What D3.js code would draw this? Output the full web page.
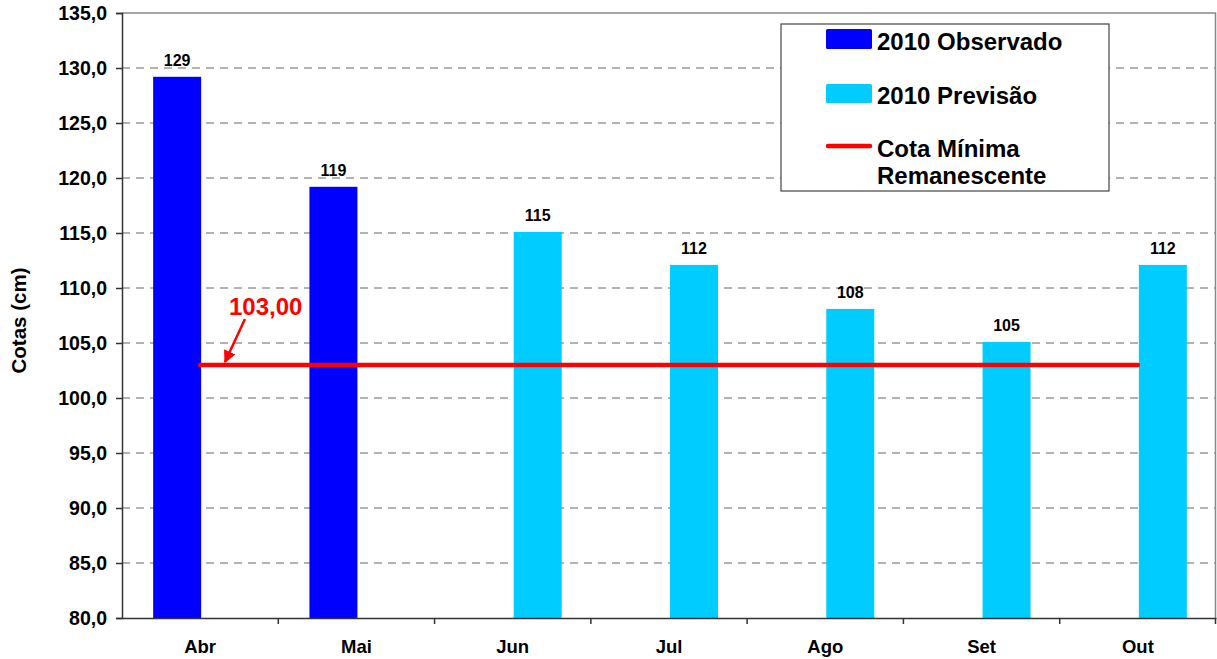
<!DOCTYPE html>
<html>
<head>
<meta charset="utf-8">
<script src="https://cdn.jsdelivr.net/npm/d3@7"></script>
<style>
  body { margin: 0; background: #fff; }
  svg { font-family: Arial, "Liberation Sans", sans-serif; }
</style>
</head>
<body>
<div id="chart"></div>
<script>
const months = ['Abr', 'Mai', 'Jun', 'Jul', 'Ago', 'Set', 'Out']
const observado = [129.2, 119.2, null, null, null, null, null]
const previsao = [null, null, 115.1, 112.1, 108.1, 105.1, 112.1]
const cotaMinima = 103
const yTicks = [80, 85, 90, 95, 100, 105, 110, 115, 120, 125, 130, 135]

const width = 1217
const height = 659
const margin = { top: 13, right: 1, bottom: 41, left: 122 }

const svg = d3.select('#chart').append('svg').attr('width', width).attr('height', height)

const x = d3.scaleBand().domain(months).range([margin.left, width - margin.right])
const sub = d3.scaleBand().domain(['obs', 'prev']).range([-47, 49])
const y = d3.scaleLinear().domain([80, 135]).range([height - margin.bottom, margin.top])
const fmt = v => d3.format('.1f')(v).replace('.', ',')

// grid
svg.append('g')
  .selectAll('line')
  .data(yTicks.filter(t => t > 80 && t < 135))
  .enter()
  .append('line')
  .attr('x1', margin.left).attr('x2', width - margin.right)
  .attr('y1', d => y(d)).attr('y2', d => y(d))
  .attr('stroke', '#666').attr('stroke-dasharray', '8,6')

// plot border top and right
svg.append('path')
  .attr('d', `M${margin.left},${y(135)}H${width - margin.right - 0.5}V${y(80)}`)
  .attr('fill', 'none').attr('stroke', '#888').attr('stroke-width', 1.5)

// bars
function drawBars (values, key, color) {
  const data = months.map((m, i) => ({ m, v: values[i] })).filter(d => d.v != null)
  svg.append('g')
    .selectAll('rect')
    .data(data)
    .enter()
    .append('rect')
    .attr('x', d => x(d.m) + x.bandwidth() / 2 + sub(key))
    .attr('width', sub.bandwidth())
    .attr('y', d => y(d.v))
    .attr('height', d => y(80) - y(d.v))
    .attr('fill', color)

  svg.append('g')
    .selectAll('text')
    .data(data)
    .enter()
    .append('text')
    .attr('x', d => x(d.m) + x.bandwidth() / 2 + sub(key) + sub.bandwidth() / 2)
    .attr('y', d => y(d.v) - 11)
    .attr('text-anchor', 'middle')
    .attr('font-size', 16).attr('font-weight', 'bold')
    .text(d => Math.round(d.v))
}
drawBars(observado, 'obs', '#0000ff')
drawBars(previsao, 'prev', '#00ccff')

// red line
svg.append('line')
  .attr('x1', x(months[0]) + x.bandwidth() / 2)
  .attr('x2', x(months[months.length - 1]) + x.bandwidth() / 2)
  .attr('y1', y(cotaMinima)).attr('y2', y(cotaMinima))
  .attr('stroke', '#ff0000').attr('stroke-width', 4.5).attr('stroke-linecap', 'round')

// annotation
svg.append('defs').append('marker')
  .attr('id', 'arr').attr('viewBox', '0 0 10 10').attr('refX', 9).attr('refY', 5)
  .attr('markerWidth', 5).attr('markerHeight', 5).attr('orient', 'auto')
  .append('path').attr('d', 'M0,0L10,5L0,10z').attr('fill', '#ff0000')
svg.append('line')
  .attr('x1', 245).attr('y1', 319).attr('x2', 225).attr('y2', y(cotaMinima) - 3)
  .attr('stroke', '#ff0000').attr('stroke-width', 2.5).attr('marker-end', 'url(#arr)')
svg.append('text')
  .attr('x', 229).attr('y', 315)
  .attr('fill', '#ff0000').attr('font-size', 24).attr('font-weight', 'bold')
  .text(d3.format('.2f')(cotaMinima).replace('.', ','))

// y axis
const yAxis = svg.append('g')
  .attr('transform', `translate(${margin.left},0)`)
  .call(d3.axisLeft(y).tickValues(yTicks).tickFormat(fmt).tickSize(6).tickPadding(9))
yAxis.selectAll('text').attr('font-size', 19.5).attr('font-weight', 'bold').attr('fill', '#000')
  .attr('font-family', 'Arial, "Liberation Sans", sans-serif')
yAxis.selectAll('line').attr('stroke', '#333').attr('stroke-width', 1.5)
yAxis.select('.domain').attr('stroke', '#333').attr('stroke-width', 1.5)

// x axis
const xAxis = svg.append('g')
  .attr('transform', `translate(0,${y(80)})`)
  .call(d3.axisBottom(x).tickSize(0).tickPadding(22))
xAxis.select('.domain').attr('stroke', '#333').attr('stroke-width', 1.5)
xAxis.selectAll('text').attr('font-size', 18.5).attr('font-weight', 'bold').attr('fill', '#000')
  .attr('font-family', 'Arial, "Liberation Sans", sans-serif')
svg.append('g')
  .selectAll('line')
  .data(months.slice(1).concat(['end']))
  .enter()
  .append('line')
  .attr('x1', d => d === 'end' ? width - margin.right - 0.5 : x(d))
  .attr('x2', d => d === 'end' ? width - margin.right - 0.5 : x(d))
  .attr('y1', y(80)).attr('y2', y(80) + 6)
  .attr('stroke', '#333').attr('stroke-width', 1.5)

// y label
svg.append('text')
  .attr('transform', `translate(26,${(y(80) + y(135)) / 2 + 5}) rotate(-90)`)
  .attr('text-anchor', 'middle')
  .attr('font-size', 20.5).attr('font-weight', 'bold')
  .text('Cotas (cm)')

// legend
const lg = svg.append('g')
lg.append('rect').attr('x', 781).attr('y', 24).attr('width', 328).attr('height', 167)
  .attr('fill', '#fff').attr('stroke', '#444').attr('stroke-width', 1.2)
lg.append('rect').attr('x', 826).attr('y', 29).attr('width', 46).attr('height', 20).attr('fill', '#0000ff').attr('rx', 1.5)
lg.append('rect').attr('x', 826).attr('y', 84).attr('width', 46).attr('height', 19).attr('fill', '#00ccff').attr('rx', 1.5)
lg.append('line').attr('x1', 828).attr('x2', 870).attr('y1', 146).attr('y2', 146)
  .attr('stroke', '#ff0000').attr('stroke-width', 4.5).attr('stroke-linecap', 'round')
const legendText = [['2010 Observado', 50], ['2010 Previsão', 104], ['Cota Mínima', 157], ['Remanescente', 184]]
lg.selectAll('text.l')
  .data(legendText)
  .enter()
  .append('text')
  .attr('x', 877).attr('y', d => d[1])
  .attr('font-size', 24).attr('font-weight', 'bold')
  .text(d => d[0])
</script>
</body>
</html>
